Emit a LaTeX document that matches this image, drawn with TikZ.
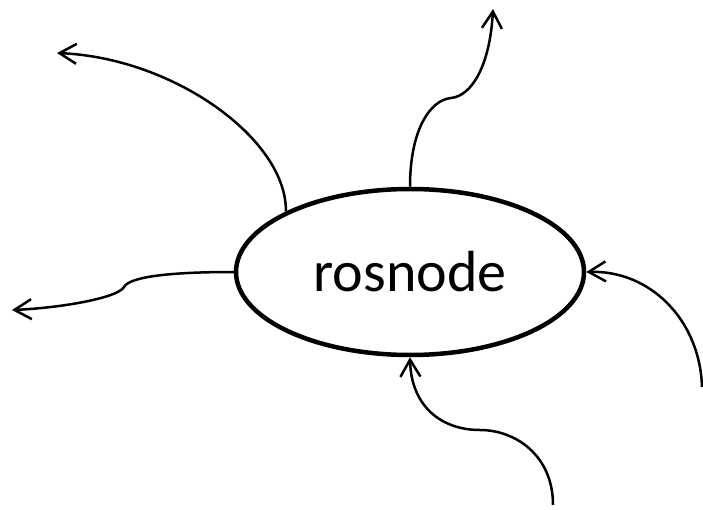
\documentclass[tikz,border=0pt]{standalone}
\usepackage{fontspec}
\setmainfont{Carlito}
\usetikzlibrary{shapes.geometric,arrows.meta}
\begin{document}
\begin{tikzpicture}[x=1pt,y=-1pt,
  proc/.style={draw,ellipse,line width=4.5pt,minimum width=348pt,minimum height=166pt,
    inner sep=0pt,font=\fontsize{58}{60}\selectfont},
  topic/.style={line width=2.5pt,-{Straight Barb[length=17pt,width=20pt]}}]
\useasboundingbox (0,0) rectangle (703,510);
\node[proc] (rosnode) at (410,272) {rosnode};
% outgoing
\coordinate (outA) at (57,53);
\coordinate (outB) at (493,9);
\coordinate (outC) at (12,310);
\draw[topic] (rosnode.154) .. controls (287,140) and (175,58) .. (outA);
\draw[topic] (rosnode.north) .. controls (410,130) and (430,100) .. (451,98)
  .. controls (472,96) and (490,65) .. (outB);
\draw[topic] (rosnode.west) .. controls (175,272) and (130,276) .. (124,287)
  .. controls (118,298) and (60,308) .. (outC);
% incoming
\coordinate (inA) at (553,505);
\coordinate (inB) at (702,387);
\draw[topic] (inA) .. controls (553,455) and (515,430) .. (480,430)
  .. controls (440,430) and (411,405) .. (rosnode.south);
\draw[topic] (inB) .. controls (700,320) and (650,270) .. (rosnode.east);
\end{tikzpicture}
\end{document}
